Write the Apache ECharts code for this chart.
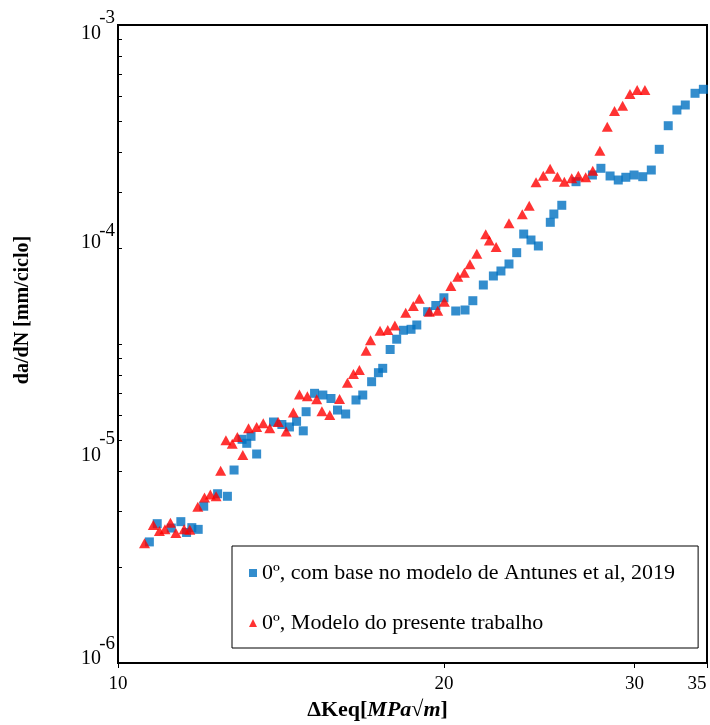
<!DOCTYPE html>
<html>
<head>
<meta charset="utf-8">
<script src="https://cdn.jsdelivr.net/npm/echarts@6/dist/echarts.min.js"></script>
<style>
  html, body { margin: 0; padding: 0; background: #fff; }
  #chart { width: 710px; height: 725px; }
</style>
</head>
<body>
<div id="chart"></div>
<script>
// ---- data ----
const seriesNames = ['0º, com base no modelo de Antunes et al, 2019', '0º, Modelo do presente trabalho'];

const blueX = [10.69,10.87,11.20,11.43,11.57,11.70,11.86,12.00,12.36,12.62,12.80,13.02,13.15,13.27,13.43,13.92,14.17,14.40,14.62,14.83,14.92,15.19,15.46,15.73,15.95,16.23,16.59,16.83,17.15,17.40,17.56,17.84,18.09,18.35,18.65,18.88,19.32,19.66,20.00,20.51,20.92,21.27,21.75,22.22,22.58,22.97,23.35,23.70,24.07,24.45,25.08,25.27,25.70,26.49,27.43,27.93,28.48,28.98,29.45,29.97,30.53,31.09,31.62,32.23,32.83,33.42,34.12,34.73];
const blueY = [3.71e-6,4.52e-6,4.31e-6,4.62e-6,4.11e-6,4.33e-6,4.25e-6,5.46e-6,6.25e-6,6.08e-6,8.08e-6,1.127e-5,1.079e-5,1.164e-5,9.61e-6,1.359e-5,1.323e-5,1.288e-5,1.369e-5,1.235e-5,1.519e-5,1.854e-5,1.82e-5,1.753e-5,1.547e-5,1.482e-5,1.725e-5,1.82e-5,2.102e-5,2.318e-5,2.43e-5,2.98e-5,3.331e-5,3.669e-5,3.708e-5,3.885e-5,4.486e-5,4.798e-5,5.216e-5,4.52e-5,4.57e-5,5.053e-5,5.99e-5,6.604e-5,6.97e-5,7.52e-5,8.5e-5,1.04e-4,9.75e-5,9.14e-5,1.181e-4,1.292e-4,1.42e-4,1.833e-4,1.971e-4,2.119e-4,1.95e-4,1.867e-4,1.923e-4,1.971e-4,1.935e-4,2.08e-4,2.603e-4,3.361e-4,3.984e-4,4.206e-4,4.774e-4,4.985e-4];

const redX = [10.58,10.78,10.92,11.05,11.18,11.31,11.51,11.65,11.85,12.02,12.17,12.32,12.44,12.58,12.75,12.89,13.04,13.20,13.43,13.62,13.81,14.06,14.30,14.52,14.71,14.96,15.26,15.43,15.69,16.02,16.29,16.50,16.71,16.95,17.11,17.46,17.75,18.02,18.44,18.74,18.98,19.39,19.74,20.02,20.30,20.60,20.89,21.14,21.45,21.86,22.03,22.35,22.97,23.63,23.98,24.33,24.71,25.07,25.46,25.84,26.25,26.62,27.04,27.45,27.87,28.31,28.75,29.25,29.71,30.17,30.67];
const redY = [3.66e-6,4.46e-6,4.17e-6,4.25e-6,4.57e-6,4.09e-6,4.25e-6,4.23e-6,5.43e-6,6.0e-6,6.2e-6,6.08e-6,8.02e-6,1.115e-5,1.075e-5,1.155e-5,9.51e-6,1.271e-5,1.288e-5,1.34e-5,1.271e-5,1.359e-5,1.226e-5,1.506e-5,1.83e-5,1.795e-5,1.738e-5,1.526e-5,1.466e-5,1.743e-5,2.08e-5,2.285e-5,2.386e-5,2.941e-5,3.291e-5,3.648e-5,3.68e-5,3.864e-5,4.438e-5,4.771e-5,5.159e-5,4.486e-5,4.535e-5,5.0e-5,5.926e-5,6.554e-5,6.844e-5,7.496e-5,8.408e-5,1.037e-4,9.7e-5,9.04e-5,1.168e-4,1.288e-4,1.414e-4,1.821e-4,1.956e-4,2.11e-4,1.935e-4,1.833e-4,1.902e-4,1.956e-4,1.923e-4,2.065e-4,2.564e-4,3.325e-4,3.941e-4,4.174e-4,4.738e-4,4.948e-4,4.948e-4];

const xTickValues = [10, 20, 30, 35];
const yTickValues = [1e-6, 1e-5, 1e-4, 1e-3];
// the reference's inner tick marks along the y axis (a 1..100 log pattern over the plot height)
const yMinorTickValues = [2,3,4,5,6,7,8,9,10,20,30,40,50,60,70,80,90];

const zip = (xs, ys) => xs.map((x, i) => [x, ys[i]]);

const serif = '"Liberation Serif", "Times New Roman", serif';
const chart = echarts.init(document.getElementById('chart'), null, { renderer: 'canvas' });

// per-exponent label styling (superscript style, base style)
const yLabelStyles = { '-3': ['sDown', 'bDown'], '-4': ['sDown', 'b'], '-5': ['s', 'b'], '-6': ['sUp', 'bUp'] };

chart.setOption({
  animation: false,
  backgroundColor: '#fff',
  textStyle: { fontFamily: serif },
  grid: {
    left: 118, right: 3, top: 25, bottom: 62,
    outerBoundsMode: 'none', containLabel: false,
    show: true, borderColor: '#000', borderWidth: 2, backgroundColor: 'transparent'
  },
  legend: {
    orient: 'vertical',
    left: 232, top: 546,
    padding: [15, 23, 13, 17],
    itemGap: 26,
    itemWidth: 8, itemHeight: 8,
    backgroundColor: '#fff',
    borderColor: '#000', borderWidth: 1,
    textStyle: { fontFamily: serif, fontSize: 22, color: '#000', lineHeight: 24 },
    data: seriesNames
  },
  xAxis: {
    type: 'log', logBase: 10, min: 10, max: 35,
    name: '{a|ΔKeq[}{i|MPa}{r|√}{i|m}{a|]}',
    nameLocation: 'middle', nameGap: 33,
    nameTextStyle: {
      padding: [0, 70, 0, 0],
      rich: {
        a: { fontFamily: serif, fontSize: 22, fontWeight: 'bold', color: '#000' },
        i: { fontFamily: serif, fontSize: 22, fontWeight: 'bold', fontStyle: 'italic', color: '#000' },
        r: { fontFamily: serif, fontSize: 22, color: '#000' }
      }
    },
    axisLine: { show: true, lineStyle: { color: '#000', width: 2 } },
    axisTick: { show: true, inside: false, length: 5, customValues: xTickValues, lineStyle: { color: '#000', width: 1 } },
    axisLabel: {
      customValues: xTickValues,
      margin: 12,
      color: '#000', fontFamily: serif, fontSize: 19,
      formatter: v => (Math.round(v) === 35 ? '{e|35}' : String(Math.round(v))),
      rich: { e: { fontFamily: serif, fontSize: 19, color: '#000', padding: [0, 20, 0, 0] } }
    },
    splitLine: { show: false },
    minorTick: { show: false }
  },
  yAxis: [
    {
      type: 'log', logBase: 10, min: 1e-6, max: 1e-3,
      position: 'left',
      name: 'da/dN [mm/ciclo]',
      nameLocation: 'middle', nameRotate: 90, nameGap: 85,
      nameTextStyle: { fontFamily: serif, fontSize: 20, fontWeight: 'bold', color: '#000', padding: [0, 0, 0, 68] },
      axisLine: { show: true, lineStyle: { color: '#000', width: 2 } },
      axisTick: { show: false },
      axisLabel: {
        customValues: yTickValues,
        margin: 3,
        formatter: v => {
          const e = String(Math.round(Math.log10(v)));
          const st = yLabelStyles[e] || ['s', 'b'];
          return '{' + st[0] + '|' + e + '}\n{' + st[1] + '|10}';
        },
        rich: {
          s: { fontFamily: serif, fontSize: 19, color: '#000', lineHeight: 10 },
          sDown: { fontFamily: serif, fontSize: 19, color: '#000', lineHeight: 10, padding: [8, 0, 0, 0] },
          sUp: { fontFamily: serif, fontSize: 19, color: '#000', lineHeight: 10, padding: [0, 0, 16, 0] },
          b: { fontFamily: serif, fontSize: 20, color: '#000', lineHeight: 22, padding: [0, 14, 0, 0] },
          bDown: { fontFamily: serif, fontSize: 20, color: '#000', lineHeight: 22, padding: [8, 14, 0, 0] },
          bUp: { fontFamily: serif, fontSize: 20, color: '#000', lineHeight: 22, padding: [0, 14, 18, 0] }
        }
      },
      splitLine: { show: false }
    },
    {
      type: 'value', min: 0, max: 2,
      position: 'left', offset: 0,
      axisLine: { show: false },
      axisLabel: { show: false },
      splitLine: { show: false },
      axisTick: { show: true, inside: true, length: 4, customValues: yMinorTickValues.map(v => Math.log10(v)), lineStyle: { color: '#000', width: 1 } }
    }
  ],
  series: [
    {
      name: seriesNames[0], type: 'scatter', yAxisIndex: 0,
      symbol: 'rect', symbolSize: 9,
      itemStyle: { color: '#0070C0' },
      data: zip(blueX, blueY), z: 2
    },
    {
      name: seriesNames[1], type: 'scatter', yAxisIndex: 0,
      symbol: 'triangle', symbolSize: [11, 10],
      itemStyle: { color: '#FF0000' },
      data: zip(redX, redY), z: 3
    }
  ]
});
</script>
</body>
</html>
